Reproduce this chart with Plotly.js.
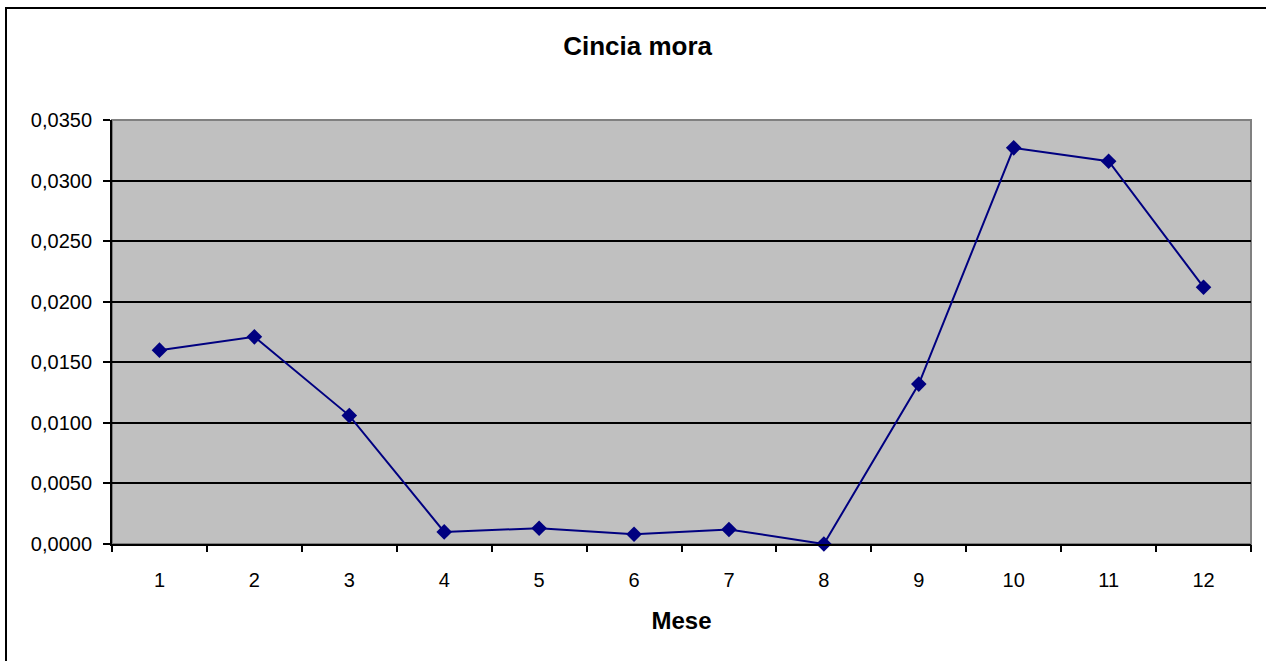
<!DOCTYPE html>
<html>
<head>
<meta charset="utf-8">
<script src="https://cdn.plot.ly/plotly-3.0.1.min.js"></script>
<style>
  html, body { margin: 0; padding: 0; background: #fff; }
  #wrap { position: relative; width: 1266px; height: 661px; overflow: hidden; }
  #chart { width: 1266px; height: 661px; }
  #frame { position: absolute; left: 5px; top: 7px; width: 1300px; height: 700px;
           border: 2px solid #000; pointer-events: none; box-sizing: border-box; }
</style>
</head>
<body>
<div id="wrap">
  <div id="chart"></div>
  <div id="frame"></div>
</div>
<script>
const months = [1, 2, 3, 4, 5, 6, 7, 8, 9, 10, 11, 12];
const monthLabels = ["1", "2", "3", "4", "5", "6", "7", "8", "9", "10", "11", "12"];
const values = [0.0160, 0.0171, 0.0106, 0.0010, 0.0013, 0.0008, 0.0012, 0.0000, 0.0132, 0.0327, 0.0316, 0.0212];
const yTicks = [0, 0.005, 0.010, 0.015, 0.020, 0.025, 0.030, 0.035];
const boundaries = [0.5, 1.5, 2.5, 3.5, 4.5, 5.5, 6.5, 7.5, 8.5, 9.5, 10.5, 11.5, 12.5];

const font = "Liberation Sans, Arial, sans-serif";

const traces = [
  {
    x: months, y: values, type: "scatter", mode: "lines+markers",
    line: { color: "#000080", width: 2 },
    marker: { symbol: "diamond", size: 12, color: "#000080" },
    cliponaxis: false, hoverinfo: "x+y"
  },
  {
    x: boundaries, y: boundaries.map(() => null), xaxis: "x2", yaxis: "y",
    type: "scatter", mode: "markers", showlegend: false, hoverinfo: "skip"
  }
];

const layout = {
  width: 1266, height: 661,
  margin: { l: 112, r: 15, t: 120, b: 117 },
  paper_bgcolor: "#ffffff",
  plot_bgcolor: "#c0c0c0",
  separators: ",.",
  showlegend: false,
  font: { family: font, size: 20, color: "#000" },
  title: {
    text: "<b>Cincia mora</b>",
    font: { family: font, size: 26, color: "#000" },
    x: 0.5036, xanchor: "center", xref: "container", y: 0.93, yanchor: "middle"
  },
  xaxis: {
    range: [0.5, 12.5], tickmode: "array", tickvals: months, ticktext: monthLabels,
    ticks: "", ticklabelstandoff: 17, showgrid: false, zeroline: false,
    showline: true, linecolor: "#000", linewidth: 2,
    tickfont: { family: font, size: 20, color: "#000" },
    title: { text: "<b>Mese</b>", font: { family: font, size: 24, color: "#000" }, standoff: 22 },
    fixedrange: true
  },
  xaxis2: {
    overlaying: "x", anchor: "y", side: "bottom", range: [0.5, 12.5],
    tickmode: "array", tickvals: boundaries, showticklabels: false,
    ticks: "outside", ticklen: 7, tickwidth: 2, tickcolor: "#000",
    showgrid: false, zeroline: false, showline: false, fixedrange: true
  },
  yaxis: {
    range: [0, 0.035], tickmode: "array", tickvals: yTicks, tickformat: ".4f",
    ticks: "outside", ticklen: 7, tickwidth: 2, tickcolor: "#000", ticklabelstandoff: 7,
    showgrid: true, gridcolor: "#000", gridwidth: 2,
    zeroline: false, showline: true, linecolor: "#000", linewidth: 2,
    tickfont: { family: font, size: 20, color: "#000" },
    fixedrange: true
  },
  shapes: [
    { type: "rect", xref: "paper", yref: "paper", x0: 0, x1: 1, y0: 0, y1: 1,
      line: { color: "#808080", width: 2 }, fillcolor: "rgba(0,0,0,0)", layer: "below" }
  ]
};

Plotly.newPlot("chart", traces, layout, { displayModeBar: false, staticPlot: true });
</script>
</body>
</html>
